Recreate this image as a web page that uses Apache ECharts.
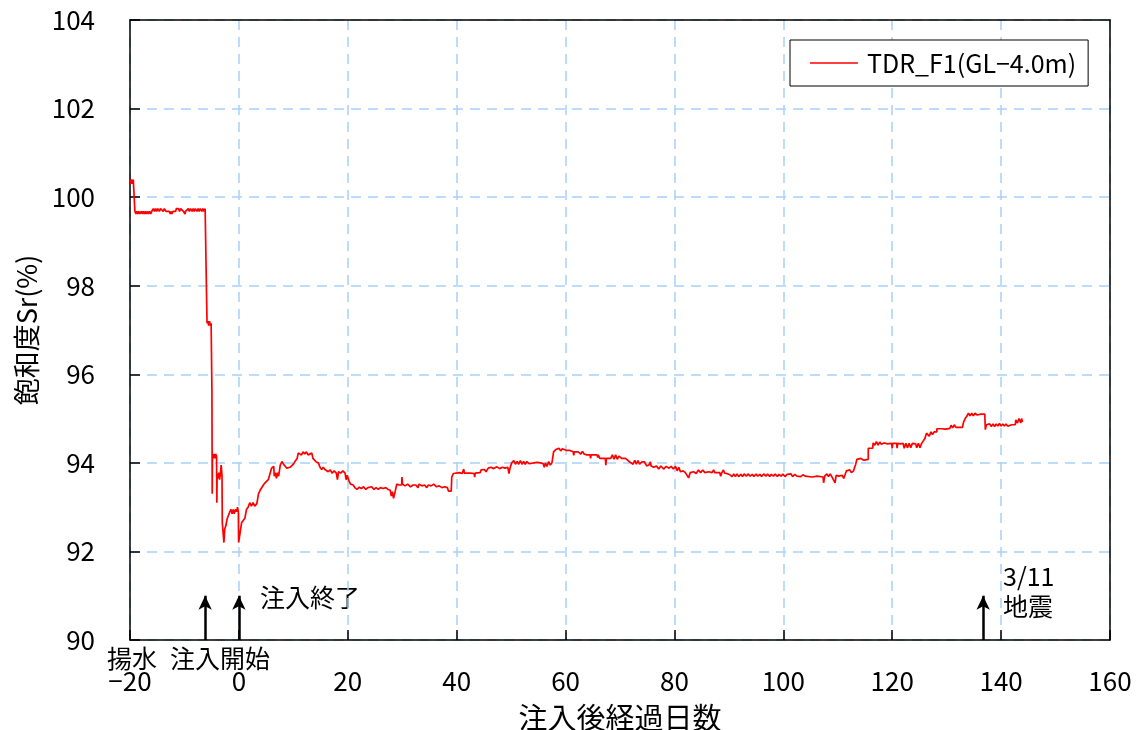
<!DOCTYPE html>
<html>
<head>
<meta charset="utf-8">
<script src="https://cdn.jsdelivr.net/npm/echarts@6/dist/echarts.min.js"></script>
<style>
  html, body { margin: 0; padding: 0; background: #fff; }
  #chart { width: 1140px; height: 730px; }
</style>
</head>
<body>
<div id="chart"></div>
<script>
// Degree of saturation Sr (%) at GL-4.0m, by days since the end of injection
const seriesName = 'TDR_F1(GL−4.0m)';
const readings = [
  [-20.0,100.40],[-19.85,100.30],[-19.7,100.40],[-19.55,100.30],[-19.4,100.40],[-19.15,100.40],
  [-19.1,99.68],[-18.9,99.62],[-18.75,99.68],[-18.55,99.62],[-18.4,99.68],[-18.2,99.62],[-17.95,99.68],
  [-17.75,99.62],[-17.6,99.68],[-17.35,99.62],[-17.2,99.68],[-17.0,99.62],[-16.8,99.68],[-16.6,99.62],
  [-16.4,99.68],[-16.2,99.62],[-16.0,99.68],
  [-15.7,99.74],[-15.5,99.68],[-15.3,99.74],[-15.1,99.68],[-14.9,99.74],[-14.6,99.68],[-14.4,99.74],
  [-14.1,99.74],[-13.9,99.68],[-13.7,99.74],[-13.4,99.68],
  [-12.8,99.68],[-12.6,99.62],[-12.5,99.68],[-12.3,99.62],[-12.1,99.68],[-11.6,99.68],[-11.5,99.74],
  [-11.1,99.74],[-10.9,99.68],[-10.7,99.74],[-10.4,99.74],[-10.2,99.68],[-9.9,99.62],[-9.8,99.68],
  [-9.3,99.74],[-9.1,99.68],[-8.9,99.74],[-8.6,99.68],[-8.4,99.74],[-8.2,99.68],[-8.0,99.74],
  [-7.7,99.68],[-7.5,99.74],[-7.3,99.68],[-7.1,99.74],[-6.8,99.68],[-6.6,99.74],[-6.4,99.68],
  [-6.2,99.74],[-5.9,99.70],
  [-5.9,97.50],[-5.85,97.15],[-5.7,97.20],[-5.55,97.10],[-5.4,97.20],[-5.25,97.10],[-5.1,97.15],
  [-4.95,95.60],[-4.9,93.30],[-4.85,94.20],[-4.7,94.10],[-4.55,94.20],[-4.4,94.10],[-4.25,94.20],
  [-4.1,94.15],[-4.05,93.10],[-4.0,93.75],[-3.85,93.65],[-3.7,93.78],[-3.55,93.62],[-3.4,93.75],
  [-3.25,93.95],[-3.1,93.70],[-3.05,92.65],[-2.95,92.50],[-2.75,92.20],[-2.6,92.50],[-2.35,92.60],
  [-2.2,92.72],[-1.9,92.70],[-1.65,92.90],[-1.45,92.95],[-1.25,92.85],[-1.05,92.95],[-0.85,92.85],
  [-0.6,92.95],[-0.4,92.90],[-0.25,93.00],[-0.1,92.90],
  [-0.05,92.20],[0.5,92.65],[0.8,92.62],[1.1,92.75],[1.4,92.95],[1.7,93.00],[2.0,93.10],[2.3,93.02],
  [2.6,93.10],[2.9,93.02],[3.3,93.08],[3.6,93.30],[3.9,93.38],[4.2,93.42],[4.5,93.50],[4.8,93.55],
  [5.1,93.55],[5.4,93.62],[5.7,93.75],[6.0,93.88],[6.4,93.92],[6.5,93.70],[6.7,93.78],[6.9,93.65],
  [7.1,93.78],[7.3,93.70],[7.6,93.95],[7.9,94.03],[8.2,93.97],[8.5,94.00],[8.8,93.88],[9.1,93.85],
  [9.4,93.90],[9.7,93.86],[10.0,93.97],[10.4,94.05],[10.7,94.10],[10.9,94.22],[11.2,94.25],
  [11.5,94.18],[11.8,94.25],[12.1,94.20],[12.4,94.25],[12.7,94.18],[13.0,94.22],[13.4,94.22],
  [13.6,94.10],[13.9,94.12],[14.2,94.02],[14.6,94.00],[14.9,93.90],[15.2,93.85],[15.5,93.90],
  [15.8,93.85],[16.1,93.88],[16.4,93.80],[16.8,93.84],[17.1,93.77],[17.5,93.82],[17.9,93.77],
  [18.1,93.62],[18.3,93.80],[18.7,93.77],[19.1,93.82],[19.5,93.77],[19.7,93.62],[19.9,93.72],
  [20.2,93.60],[20.5,93.52],[20.8,93.55],[21.0,93.50],[21.3,93.44],[21.7,93.40],[22.1,93.45],
  [22.5,93.42],[22.9,93.46],[23.3,93.40],[23.7,93.44],[24.0,93.40],[24.4,93.46],[24.8,93.40],
  [25.2,93.44],[25.6,93.40],[26.0,93.44],[26.5,93.42],[27.0,93.44],[27.4,93.40],[27.8,93.38],
  [28.0,93.25],[28.2,93.35],[28.4,93.20],[28.7,93.35],[29.0,93.52],[29.4,93.50],[29.9,93.50],
  [29.95,93.68],[30.05,93.52],[30.5,93.48],[31.0,93.52],[31.5,93.46],[32.0,93.50],[32.5,93.50],
  [32.9,93.44],[33.1,93.52],[33.6,93.48],[34.1,93.50],[34.5,93.44],[34.8,93.50],[35.3,93.48],
  [35.8,93.52],[36.3,93.46],[36.8,93.48],[37.3,93.44],[37.8,93.46],[38.3,93.44],[38.5,93.36],
  [38.8,93.34],[39.0,93.36],[39.1,93.68],[39.4,93.76],
  [40.5,93.78],[41.0,93.76],[41.3,93.86],[41.4,93.77],[42.5,93.77],[43.2,93.76],[43.3,93.68],
  [43.4,93.77],[44.3,93.78],[44.5,93.84],[44.8,93.80],[45.1,93.85],[45.4,93.80],[45.8,93.88],
  [46.3,93.90],[46.8,93.87],[47.4,93.91],[47.9,93.87],[48.4,93.90],[48.9,93.88],[49.4,93.90],
  [49.6,93.76],[49.8,93.88],[50.1,94.00],[50.5,94.05],[50.8,93.97],[51.1,94.03],[51.4,93.97],
  [51.7,94.05],[52.0,93.97],[52.3,94.03],[52.6,93.97],[52.9,94.03],[53.3,93.98],[53.6,94.02],
  [54.2,94.00],[54.8,94.01],[55.4,94.00],[55.9,93.98],[56.1,93.90],[56.3,94.00],[56.6,93.92],
  [56.9,94.03],[57.2,93.95],[57.5,94.00],[57.8,94.25],[58.2,94.30],[58.5,94.26],[58.8,94.33],
  [59.1,94.27],[59.4,94.32],[59.7,94.28],[60.2,94.28],[60.8,94.28],[61.4,94.25],[61.5,94.17],
  [61.6,94.25],[62.3,94.25],[62.8,94.20],[63.1,94.26],[63.4,94.20],[63.9,94.18],[64.5,94.18],
  [64.6,94.10],[64.7,94.18],[65.8,94.18],[65.9,94.12],[66.0,94.18],[66.3,94.10],[66.6,94.08],
  [67.3,94.10],[67.4,93.95],[67.5,94.10],[68.3,94.10],[68.6,94.18],[68.9,94.08],[69.2,94.18],
  [69.5,94.08],[69.8,94.15],[70.3,94.10],[71.0,94.10],[71.8,94.02],[72.1,94.06],[72.4,93.97],
  [72.7,94.06],[73.0,93.97],[73.3,94.05],[73.6,93.97],[74.0,94.02],[74.5,94.02],[74.9,93.93],
  [75.3,93.95],[75.6,94.02],[75.7,93.93],[76.2,93.90],[76.7,93.93],[77.1,93.86],[77.5,93.93],
  [78.0,93.86],[78.5,93.92],[79.0,93.88],[79.4,93.92],[79.8,93.86],[80.2,93.92],[80.5,93.82],
  [80.8,93.90],[81.1,93.80],[81.6,93.82],[82.0,93.78],[82.3,93.78],[82.6,93.66],[82.9,93.78],
  [83.5,93.80],[84.0,93.76],[84.4,93.84],[84.8,93.78],[85.2,93.84],[85.6,93.78],[86.3,93.80],
  [86.9,93.78],[87.2,93.84],[87.4,93.78],[88.3,93.78],[88.5,93.70],[88.7,93.78],[89.0,93.84],
  [89.2,93.77],[89.6,93.76],[90.2,93.73],[90.6,93.69],[90.9,93.75],[91.2,93.69],[91.5,93.75],
  [91.8,93.69],[92.2,93.74],[92.5,93.69],[92.8,93.75],[93.2,93.70],[93.5,93.75],[93.9,93.70],
  [94.3,93.74],[94.6,93.69],[95.0,93.75],[95.3,93.70],[95.7,93.74],[96.0,93.69],[96.4,93.75],
  [96.8,93.70],[97.1,93.75],[97.5,93.69],[97.8,93.74],[98.2,93.70],[98.5,93.75],[98.9,93.69],
  [99.2,93.74],[99.6,93.70],[99.9,93.75],[100.3,93.69],[100.7,93.74],[101.0,93.70],[101.4,93.75],
  [101.7,93.69],[102.1,93.74],[102.5,93.70],[102.8,93.74],[103.2,93.69],[103.6,93.73],[104.0,93.70],
  [104.3,93.70],[105.3,93.68],[106.2,93.70],[107.3,93.68],[107.4,93.55],[107.6,93.70],[108.0,93.75],
  [108.3,93.69],[108.6,93.75],[108.9,93.69],[109.2,93.73],[109.5,93.55],[109.7,93.72],[110.2,93.70],
  [110.8,93.72],[111.1,93.65],[111.3,93.72],[111.6,93.82],[111.9,93.78],[112.2,93.84],[112.5,93.78],
  [112.9,93.82],[113.1,93.90],[113.3,93.97],[113.5,94.08],[114.2,94.10],[114.8,94.06],[115.6,94.08],
  [115.6,94.33],[116.4,94.33],[116.5,94.45],[116.8,94.40],[117.1,94.48],[117.4,94.40],[117.7,94.47],
  [118.0,94.42],[118.5,94.45],[119.0,94.43],[119.9,94.44],[120.0,94.33],[120.1,94.44],[120.8,94.44],
  [120.9,94.33],[121.0,94.44],[121.5,94.43],[122.0,94.44],[122.2,94.33],[122.5,94.44],[122.8,94.34],
  [123.1,94.44],[123.4,94.34],[123.7,94.44],[124.3,94.43],[124.5,94.34],[124.8,94.44],[125.1,94.34],
  [125.4,94.44],[125.7,94.40],[126.0,94.55],[126.3,94.67],[126.6,94.70],[126.8,94.60],[127.1,94.70],
  [127.4,94.64],[127.7,94.70],[128.2,94.70],[128.2,94.77],[129.0,94.77],[129.8,94.76],[130.6,94.78],
  [130.8,94.85],[131.1,94.79],[131.4,94.86],[131.7,94.80],[132.3,94.80],[132.6,94.84],[132.9,94.80],
  [133.1,94.80],[133.1,94.92],[133.4,95.00],[133.7,95.05],[134.0,95.12],[134.3,95.06],[134.6,95.12],
  [134.9,95.06],[135.2,95.12],[135.6,95.08],[136.3,95.10],[137.0,95.10],[137.1,94.75],[137.3,94.86],
  [137.6,94.82],[137.9,94.88],[138.2,94.82],[138.5,94.88],[138.8,94.82],[139.1,94.88],[139.4,94.83],
  [139.7,94.89],[140.0,94.83],[140.3,94.88],[140.6,94.83],[140.9,94.88],[141.2,94.83],[141.5,94.87],
  [142.0,94.86],[142.6,94.86],[142.7,94.97],[143.0,94.90],[143.3,95.00],[143.6,94.90],[143.8,95.00],
  [143.9,94.92]
];

// Axis ranges and ticks
const xTicks = { min: -20, max: 160, interval: 20 };
const yTicks = { min: 90, max: 104, interval: 2 };

// Event arrows (days) drawn up from the bottom of the plot
const eventDays = [-6.2, 0, 136.7];
const arrowFrom = 90;
const arrowTo = 91;

// Event captions
const captions = [
  { text: '揚水', x: 107, y: 658 },
  { text: '注入開始', x: 170, y: 658 },
  { text: '注入終了', x: 260, y: 597 },
  { text: '3/11', x: 1003, y: 576 },
  { text: '地震', x: 1003, y: 606 }
];

const FONT = "'Noto Sans CJK JP', 'Noto Sans', sans-serif";
const chart = echarts.init(document.getElementById('chart'), null, { renderer: 'canvas' });

const gridLine = { show: true, lineStyle: { color: '#a8d1fa', width: 1.5, type: [10, 7] } };
const frameLine = { show: true, onZero: false, lineStyle: { color: '#000', width: 1.5 } };
const innerTick = { show: true, inside: true, length: 10, lineStyle: { color: '#000', width: 1.5 } };

chart.setOption({
  animation: false,
  backgroundColor: '#fff',
  grid: { left: 130, right: 30, top: 20, bottom: 90, containLabel: false, outerBoundsMode: 'none' },
  legend: {
    left: 790, top: 40,
    padding: [10, 12, 10, 20],
    borderColor: '#000', borderWidth: 1, backgroundColor: '#fff',
    itemWidth: 48, itemHeight: 1.5, icon: 'rect',
    textStyle: { fontFamily: FONT, fontSize: 25, color: '#000', lineHeight: 26, padding: [0, 0, 0, 4] },
    data: [seriesName]
  },
  xAxis: [
    {
      type: 'value', position: 'bottom', min: xTicks.min, max: xTicks.max, interval: xTicks.interval,
      name: '注入後経過日数', nameLocation: 'middle', nameGap: 63,
      nameTextStyle: { fontFamily: FONT, fontSize: 29, color: '#000' },
      axisLine: frameLine,
      axisTick: innerTick,
      axisLabel: {
        margin: 28, fontFamily: FONT, fontSize: 26, color: '#000',
        formatter: v => (v < 0 ? '−' + Math.abs(v) : String(v))
      },
      splitLine: gridLine
    },
    {
      type: 'value', position: 'top', min: xTicks.min, max: xTicks.max, interval: xTicks.interval,
      axisLine: frameLine, axisTick: { show: false }, axisLabel: { show: false }, splitLine: { show: false }
    }
  ],
  yAxis: [
    {
      type: 'value', position: 'left', min: yTicks.min, max: yTicks.max, interval: yTicks.interval,
      name: '飽和度Sr(%)', nameLocation: 'middle', nameGap: 90, nameRotate: 90,
      nameTextStyle: { fontFamily: FONT, fontSize: 27, color: '#000' },
      axisLine: frameLine,
      axisTick: innerTick,
      axisLabel: { margin: 35, fontFamily: FONT, fontSize: 26, color: '#000' },
      splitLine: gridLine
    },
    {
      type: 'value', position: 'right', min: yTicks.min, max: yTicks.max, interval: yTicks.interval,
      axisLine: frameLine, axisTick: { show: false }, axisLabel: { show: false }, splitLine: { show: false }
    }
  ],
  series: [
    {
      name: seriesName,
      type: 'line',
      data: readings,
      showSymbol: false,
      symbol: 'none',
      color: '#ff0000',
      lineStyle: { color: '#ff0000', width: 1.7 },
      z: 3
    },
    {
      name: 'events',
      type: 'line',
      data: [],
      silent: true,
      markLine: {
        silent: true,
        symbol: ['none', 'arrow'],
        symbolSize: [10, 14],
        label: { show: false },
        lineStyle: { color: '#000', width: 2.5, type: 'solid' },
        data: eventDays.map(d => [{ coord: [d, arrowFrom] }, { coord: [d, arrowTo] }])
      }
    }
  ],
  graphic: captions.map(c => ({
    type: 'text', x: c.x, y: c.y, silent: true,
    style: { text: c.text, font: '25px ' + FONT, fill: '#000', verticalAlign: 'middle', align: 'left' }
  }))
});
</script>
</body>
</html>
